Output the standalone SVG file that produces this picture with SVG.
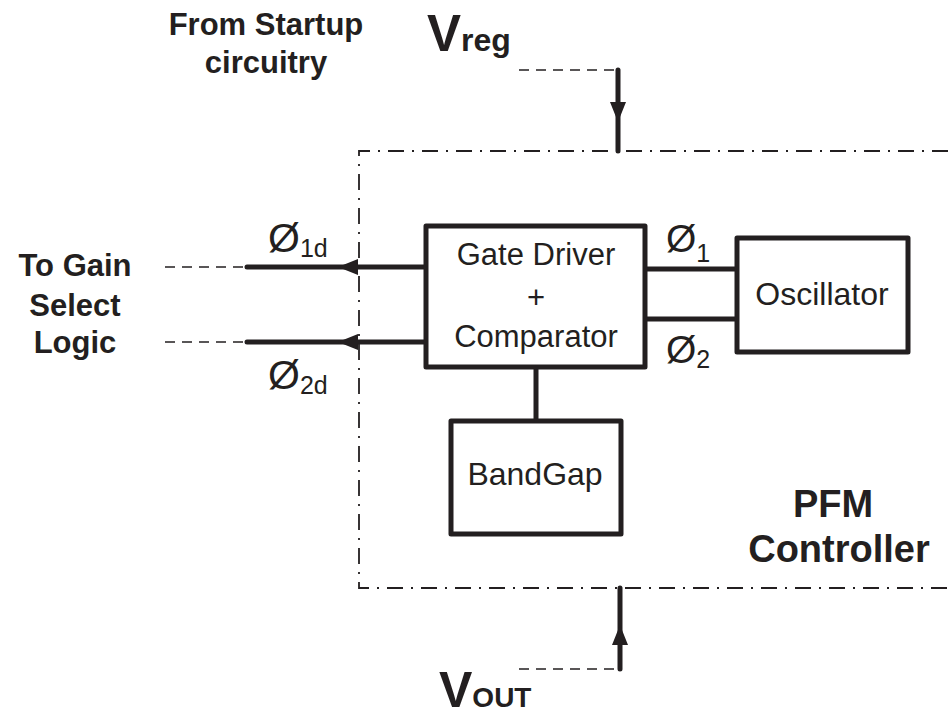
<svg xmlns="http://www.w3.org/2000/svg" width="948" height="717" viewBox="0 0 948 717">
  <style>
    .blk { fill: #ffffff; stroke: #231f20; stroke-width: 5; stroke-linejoin: round; }
    .wire { fill: none; stroke: #231f20; stroke-width: 5; stroke-linecap: round; }
    .dash { fill: none; stroke: #231f20; stroke-width: 1.6; stroke-dasharray: 10 7; }
    .frame { fill: none; stroke: #231f20; stroke-width: 1.8; stroke-dasharray: 16 8 2 8; }
    .lbl { font-family: "Liberation Sans", Arial, sans-serif; fill: #231f20; }
    .bold { font-weight: bold; }
    .mid { text-anchor: middle; }
  </style>
  <defs>
    <marker id="arrow" viewBox="0 -8 20 16" markerWidth="20" markerHeight="16" refX="20" refY="0" orient="auto" markerUnits="userSpaceOnUse">
      <path d="M0,-8 L20,0 L0,8 z" fill="#231f20"/>
    </marker>
  </defs>

  <!-- PFM controller boundary (dash-dot) -->
  <path class="frame" d="M948 151 H359 V588 H948"/>

  <!-- connectors -->
  <g id="connectors">
    <!-- supply in from startup circuitry -->
    <path class="dash" d="M519 70 H618"/>
    <path class="wire" d="M618 70 V122 V151" marker-mid="url(#arrow)"/>
    <!-- output voltage feedback -->
    <path class="dash" d="M519 669 H620"/>
    <path class="wire" d="M620 669 V625 V588" marker-mid="url(#arrow)"/>
    <!-- delayed phases to gain select logic -->
    <path class="wire" d="M426 267 L338 267 L247 267" marker-mid="url(#arrow)"/>
    <path class="wire" d="M426 342 L338 342 L247 342" marker-mid="url(#arrow)"/>
    <path class="dash" d="M165 267 H247"/>
    <path class="dash" d="M165 342 H247"/>
    <!-- oscillator phases -->
    <path class="wire" d="M645 269 H737"/>
    <path class="wire" d="M645 319 H737"/>
    <!-- bandgap reference -->
    <path class="wire" d="M536 367 V421"/>
  </g>

  <g id="gate-driver">
    <rect class="blk" x="426" y="226" width="219" height="141"/>
    <text class="lbl mid" x="536" y="265" font-size="31">Gate Driver</text>
    <text class="lbl mid" x="536" y="308" font-size="31">+</text>
    <text class="lbl mid" x="536" y="347" font-size="31">Comparator</text>
  </g>

  <g id="oscillator">
    <rect class="blk" x="737" y="238" width="171" height="114"/>
    <text class="lbl mid" x="822" y="305" font-size="32">Oscillator</text>
  </g>

  <g id="bandgap">
    <rect class="blk" x="451" y="421" width="170" height="113"/>
    <text class="lbl mid" x="535" y="485" font-size="32">BandGap</text>
  </g>

  <!-- signal labels -->
  <g id="labels">
    <text class="lbl bold mid" x="266" y="35" font-size="31">From Startup</text>
    <text class="lbl bold mid" x="266" y="73" font-size="31">circuitry</text>

    <text class="lbl bold mid" x="75" y="276" font-size="31">To Gain</text>
    <text class="lbl bold mid" x="75" y="316" font-size="31">Select</text>
    <text class="lbl bold mid" x="75" y="353" font-size="31">Logic</text>

    <text class="lbl bold" x="427" y="51" font-size="51">V<tspan font-size="32">reg</tspan></text>
    <text class="lbl bold" x="439" y="707" font-size="50">V<tspan font-size="28">OUT</tspan></text>

    <text class="lbl" x="268" y="252" font-size="41">Ø<tspan font-size="25" dy="5">1d</tspan></text>
    <text class="lbl" x="268" y="389" font-size="41">Ø<tspan font-size="25" dy="5">2d</tspan></text>
    <text class="lbl" x="666" y="252" font-size="39">Ø<tspan font-size="25" dy="10">1</tspan></text>
    <text class="lbl" x="666" y="363" font-size="39">Ø<tspan font-size="25" dy="5">2</tspan></text>

    <text class="lbl bold mid" x="833" y="517" font-size="38">PFM</text>
    <text class="lbl bold mid" x="839" y="562" font-size="38">Controller</text>
  </g>
</svg>
